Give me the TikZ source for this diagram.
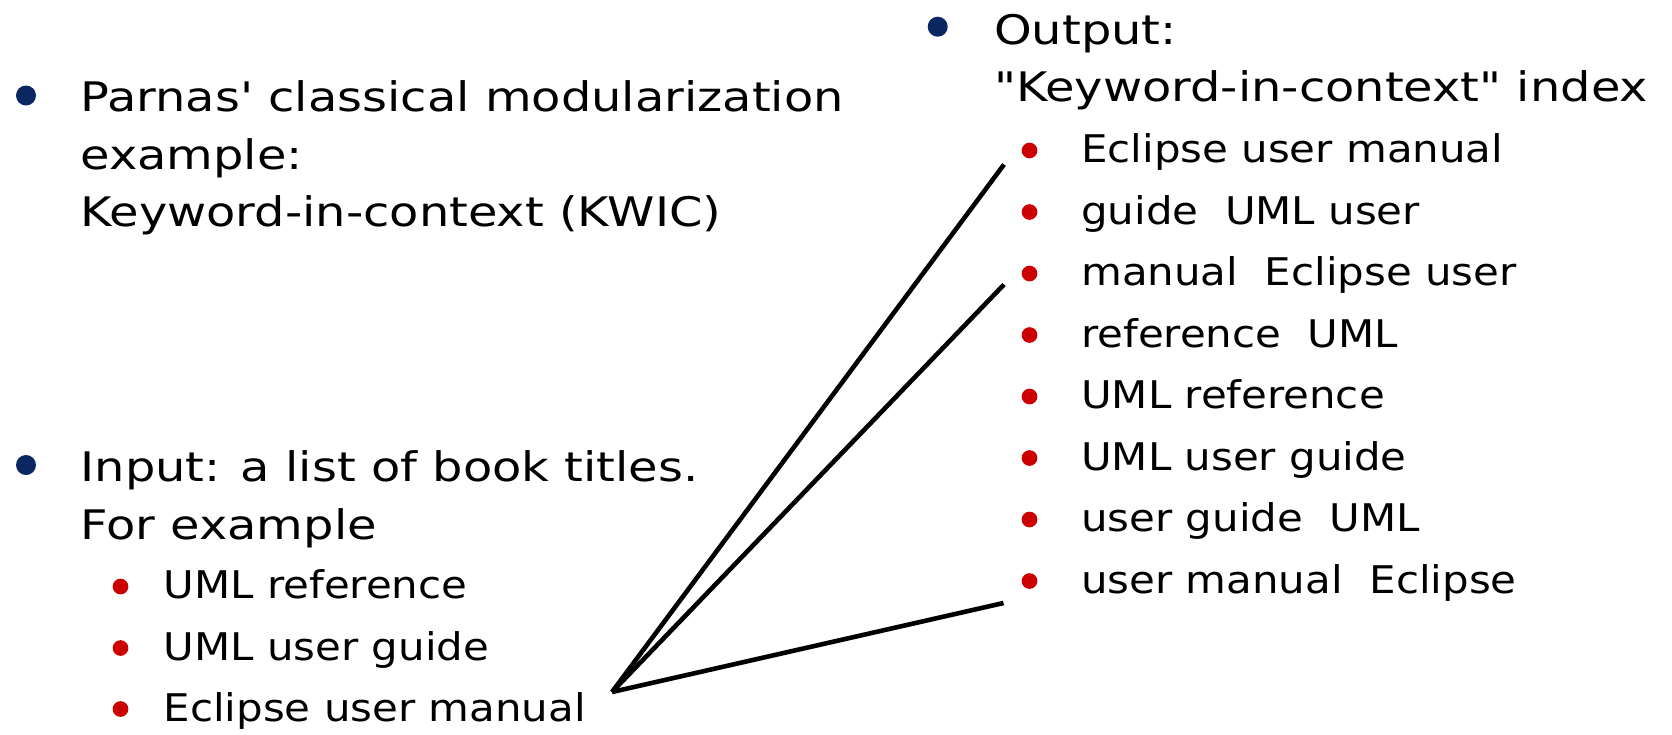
\documentclass[tikz,border=0pt]{standalone}
\usepackage{fontspec}
\setmainfont{DejaVu Sans}
% wide first-level text and slightly narrower second-level text
\newfontfamily\topfont[FakeStretch=1.177,Ligatures=TeXOff]{DejaVu Sans}
\newfontfamily\subfont[FakeStretch=1.10,Ligatures=TeXOff]{DejaVu Sans}
\definecolor{bulletblue}{HTML}{0A2762}
\definecolor{bulletred}{HTML}{CC0000}

\tikzset{
  lvlone/.style={anchor=base west, inner sep=0pt, font=\topfont\fontsize{40.7}{48}\selectfont},
  lvltwo/.style={anchor=base west, inner sep=0pt, font=\subfont\fontsize{38.1}{46}\selectfont},
  mainbullet/.style={circle, fill=bulletblue, minimum size=20pt, inner sep=0pt},
  subbullet/.style={circle, fill=bulletred, minimum size=15.7pt, inner sep=0pt},
  link/.style={line width=4.6pt, black}
}

\begin{document}
\begin{tikzpicture}[x=1pt, y=-1pt]
\useasboundingbox (0,0) rectangle (1672,734);

% ---- left column: the problem statement
\node[mainbullet] (b1) at (26,95.5) {};
\node[lvlone] (p1) at (80.3,111.7) {Parnas' classical modularization};
\node[lvlone] (p2) at (80.3,169.2) {example:};
\node[lvlone] (p3) at (80.3,226.7) {Keyword-in-context (KWIC)};

\node[mainbullet] (b2) at (26,465) {};
\node[lvlone] (in1) at (80.3,481.5) {Input: a list of book titles.};
\node[lvlone] (in2) at (80.3,539) {For example};

\node[subbullet] (sb1) at (120.5,586.5) {};
\node[lvltwo] (t1) at (163.5,598.5) {UML reference};
\node[subbullet] (sb2) at (120.5,648) {};
\node[lvltwo] (t2) at (163.5,660) {UML user guide};
\node[subbullet] (sb3) at (120.5,709) {};
\node[lvltwo] (t3) at (163.5,721) {Eclipse user manual};

% ---- right column: the generated index
\node[mainbullet] (b3) at (937.7,26.7) {};
\node[lvlone] (o1) at (994,44) {Output:};
\node[lvlone] (o2) at (994,101.5) {"Keyword-in-context" index};

\foreach \txt [count=\i from 0] in {
    Eclipse user manual,
    guide~~UML user,
    manual~~Eclipse user,
    reference~~UML,
    UML reference,
    UML user guide,
    user guide~~UML,
    user manual~~Eclipse} {
  \node[subbullet] (rb\i) at (1029.5,150.5+61.5*\i) {};
  \node[lvltwo] (r\i) at (1081,162.5+61.5*\i) {\txt};
}

% ---- rotations of the last title
\coordinate (apex) at (612,692);
\coordinate (e1) at (1004,164.5);
\coordinate (e2) at (1004,284.5);
\coordinate (e3) at (1003.5,603);
\draw[link] (apex) -- (e1);
\draw[link] (apex) -- (e2);
\draw[link] (apex) -- (e3);
\end{tikzpicture}
\end{document}
